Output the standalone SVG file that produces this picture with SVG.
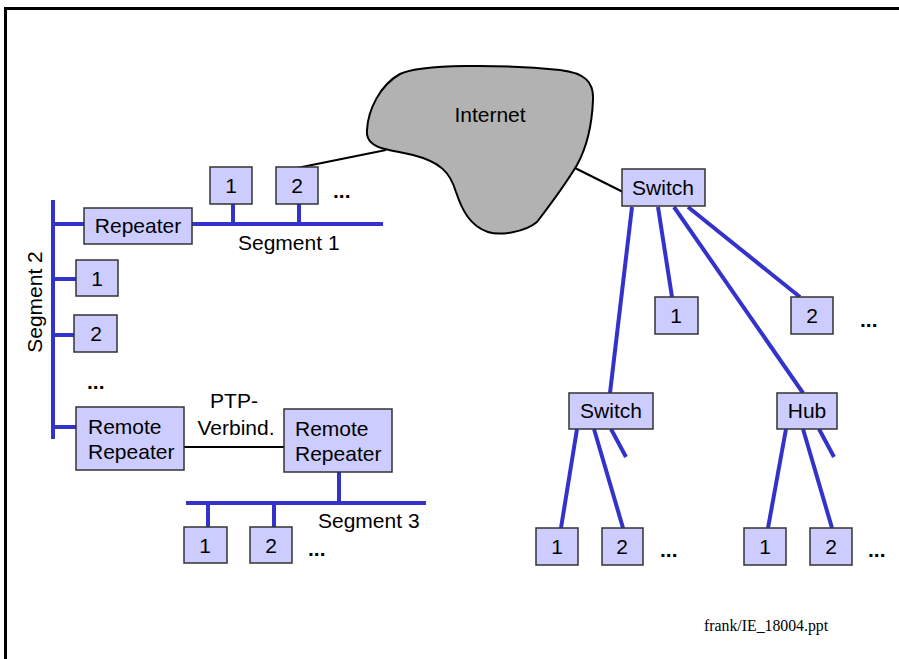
<svg xmlns="http://www.w3.org/2000/svg" width="899" height="659" viewBox="0 0 899 659">
<style>
.box{fill:#CCCCFF;stroke:#333333;stroke-width:1.5}
.t{font-family:"Liberation Sans",Arial,sans-serif;font-size:21px;fill:#000}
.c{text-anchor:middle}
.dots{font-family:"Liberation Sans",Arial,sans-serif;font-size:21px;font-weight:bold;fill:#000}
.bus{stroke:#3333CC;stroke-width:4;fill:none}
.blk{stroke:#000;stroke-width:2;fill:none}
</style>
<rect x="5.5" y="8.5" width="1000" height="1000" fill="#fff" stroke="#000" stroke-width="3"/>
<g id="connectors">
<line class="blk" x1="297" y1="168" x2="386" y2="150"/>
<line class="blk" x1="573" y1="167" x2="623" y2="192"/>
<line class="blk" x1="184" y1="447" x2="284" y2="447"/>
<line class="bus" x1="53" y1="200" x2="53" y2="439"/>
<line class="bus" x1="53" y1="224" x2="84" y2="224"/>
<line class="bus" x1="192" y1="224" x2="383" y2="224"/>
<line class="bus" x1="233" y1="204" x2="233" y2="224"/>
<line class="bus" x1="299" y1="204" x2="299" y2="224"/>
<line class="bus" x1="53" y1="279" x2="76" y2="279"/>
<line class="bus" x1="53" y1="335" x2="74" y2="335"/>
<line class="bus" x1="53" y1="427" x2="76" y2="427"/>
<line class="bus" x1="339" y1="472" x2="339" y2="503"/>
<line class="bus" x1="186" y1="503" x2="426" y2="503"/>
<line class="bus" x1="208" y1="503" x2="208" y2="527"/>
<line class="bus" x1="274" y1="503" x2="274" y2="527"/>
<line class="bus" x1="632" y1="207" x2="610" y2="393"/>
<line class="bus" x1="658" y1="207" x2="672" y2="297"/>
<line class="bus" x1="674" y1="207" x2="803" y2="393"/>
<line class="bus" x1="688" y1="207" x2="800" y2="297"/>
<line class="bus" x1="577" y1="429" x2="561" y2="528"/>
<line class="bus" x1="594" y1="429" x2="623" y2="528"/>
<line class="bus" x1="611" y1="429" x2="626" y2="457"/>
<line class="bus" x1="786" y1="429" x2="768" y2="528"/>
<line class="bus" x1="803" y1="429" x2="832" y2="528"/>
<line class="bus" x1="819" y1="429" x2="834" y2="457"/>
</g>
<g id="internet">
<path d="M 385 149 C 372 146, 366 140, 367 130 C 368 110, 380 85, 400 74 C 420 64, 500 64, 560 70 C 585 73, 594 82, 593 100 C 592 125, 588 145, 577 165 C 565 185, 550 205, 537 222 C 525 232, 500 236, 488 232 C 470 226, 462 210, 456 192 C 450 172, 440 162, 413 155 C 400 152, 392 151, 385 149 Z" fill="#B2B2B2" stroke="#000" stroke-width="2"/>
<text class="t c" x="490" y="122">Internet</text>
</g>
<g id="repeater"><rect class="box" x="84" y="208" width="108" height="36"/><text class="t c" x="138" y="233">Repeater</text></g>
<g id="s1n1"><rect class="box" x="210" y="167" width="42" height="37"/><text class="t c" x="231" y="193">1</text></g>
<g id="s1n2"><rect class="box" x="276" y="167" width="42" height="37"/><text class="t c" x="297" y="193">2</text></g>
<text class="dots" x="333" y="198">...</text>
<text class="t" x="238" y="250">Segment 1</text>
<text class="t c" transform="translate(42,302) rotate(-90)">Segment 2</text>
<g id="s2n1"><rect class="box" x="76" y="260" width="42" height="36"/><text class="t c" x="97" y="286">1</text></g>
<g id="s2n2"><rect class="box" x="74" y="315" width="43" height="37"/><text class="t c" x="96" y="341">2</text></g>
<text class="dots" x="87" y="389">...</text>
<g id="rrep1"><rect class="box" x="76" y="407" width="108" height="63"/><text class="t" x="88" y="434">Remote</text><text class="t" x="88" y="459">Repeater</text></g>
<text class="t c" x="234" y="408">PTP-</text>
<text class="t c" x="236" y="435">Verbind.</text>
<g id="rrep2"><rect class="box" x="284" y="409" width="108" height="63"/><text class="t" x="295" y="436">Remote</text><text class="t" x="295" y="461">Repeater</text></g>
<text class="t" x="318" y="528">Segment 3</text>
<g id="s3n1"><rect class="box" x="184" y="527" width="43" height="36"/><text class="t c" x="205" y="553">1</text></g>
<g id="s3n2"><rect class="box" x="250" y="527" width="42" height="36"/><text class="t c" x="271" y="553">2</text></g>
<text class="dots" x="308" y="556">...</text>
<g id="switch1"><rect class="box" x="622" y="169" width="83" height="37"/><text class="t c" x="663" y="195">Switch</text></g>
<g id="sw1n1"><rect class="box" x="655" y="297" width="43" height="37"/><text class="t c" x="676" y="323">1</text></g>
<g id="sw1n2"><rect class="box" x="791" y="297" width="42" height="37"/><text class="t c" x="812" y="323">2</text></g>
<text class="dots" x="860" y="327">...</text>
<g id="switch2"><rect class="box" x="569" y="393" width="84" height="36"/><text class="t c" x="611" y="418">Switch</text></g>
<g id="hub"><rect class="box" x="777" y="393" width="60" height="36"/><text class="t c" x="807" y="418">Hub</text></g>
<g id="sw2n1"><rect class="box" x="536" y="528" width="42" height="37"/><text class="t c" x="557" y="554">1</text></g>
<g id="sw2n2"><rect class="box" x="602" y="528" width="41" height="37"/><text class="t c" x="622" y="554">2</text></g>
<text class="dots" x="660" y="557">...</text>
<g id="hubn1"><rect class="box" x="744" y="528" width="42" height="37"/><text class="t c" x="765" y="554">1</text></g>
<g id="hubn2"><rect class="box" x="810" y="528" width="42" height="37"/><text class="t c" x="831" y="554">2</text></g>
<text class="dots" x="868" y="557">...</text>
<text x="704" y="631" font-family="'Liberation Serif','Times New Roman',serif" font-size="15.8" fill="#000">frank/IE_18004.ppt</text>
</svg>
